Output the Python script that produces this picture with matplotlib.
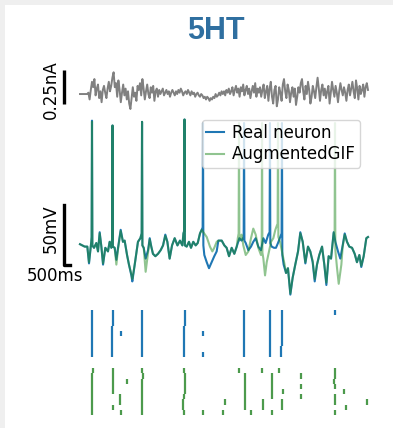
import matplotlib
matplotlib.use('Agg')
import matplotlib.pyplot as plt
from matplotlib.patches import Rectangle

# injected current (nA), sampled every 0.1 s from 0 to 24 s
current_t = [i * 0.1 for i in range(241)]
current_nA = [0, 0, 0, 0, 0, 0, 0, 0.01,
              -0.04, 0.03, 0.09, 0.05, 0.11, -0.01, 0.04, 0.07, -0.03, 0.02, -0.06, 0.03,
              0.06, 0.01, -0.03, 0.04, 0.09, 0.02, 0.06, 0.12, 0.16, 0.05,
              0.08, -0.02, 0.10, 0.03, -0.06, 0.01, 0.07, -0.01, 0.04, -0.04,
              0.02, -0.07, -0.11, -0.03, 0.05, -0.02, 0.01, -0.05, 0.06, 0.03,
              0.08, -0.01, 0.11, 0.04, -0.04, 0.02, 0.07, 0.00, -0.03, 0.05,
              0.01, 0.06, -0.05, 0.02, 0.04, -0.02, 0.03, 0.00, 0.02, 0.04,
              -0.01, 0.01, 0.03, 0.00, 0.02, -0.02, 0.01, 0.03, 0.01, -0.01,
              0.02, 0.00, 0.03, 0.01, 0.04, 0.02, -0.01, 0.01, 0.02, 0.00,
              0.03, 0.01, -0.01, 0.02, 0.00, 0.01, -0.02, 0.00, 0.01, -0.01,
              -0.02, 0.00, -0.01, -0.03, -0.02, -0.04, -0.02, -0.03, -0.05, -0.03,
              -0.04, -0.02, -0.03, 0.00, -0.02, -0.01, 0.01, -0.01, 0.02, 0.00,
              0.02, -0.01, 0.03, 0.01, 0.04, 0.00, 0.02, 0.05, -0.01, 0.03,
              0.06, 0.01, 0.04, -0.02, 0.05, 0.02, 0.07, -0.01, 0.03, 0.06,
              0.00, 0.04, -0.03, 0.02, 0.06, 0.01, 0.08, -0.02, 0.04, 0.01,
              0.05, -0.02, 0.03, 0.07, -0.03, 0.02, 0.06, -0.05, 0.04, 0.09,
              -0.02, -0.07, 0.03, 0.06, -0.09, -0.04, 0.05, 0.01, -0.05, 0.07,
              0.11, 0.02, -0.03, 0.07, 0.03, -0.06, 0.01, 0.05, -0.02, 0.04,
              -0.08, -0.02, 0.05, 0.01, 0.08, 0.11, 0.02, -0.04, 0.06, 0.00,
              0.09, 0.03, -0.07, -0.02, 0.06, 0.02, -0.03, 0.05, 0.12, 0.04,
              -0.05, 0.03, 0.07, -0.01, 0.04, -0.03, 0.02, 0.06, -0.07, 0.01,
              0.09, 0.03, -0.02, 0.06, 0.01, -0.06, 0.02, 0.08, 0.03, -0.01,
              0.05, 0.01, -0.05, 0.03, 0.07, -0.01, 0.04, 0.09, 0.02, -0.03,
              0.10, 0.04, -0.04, 0.06, 0.00, 0.03, 0.07, -0.02, 0.05, 0.08,
              0.03]

# membrane potential of the real neuron (s, mV)
real_t = [0, 0.39, 0.61, 0.75, 0.94, 0.97, 1.0, 1.03, 1.17, 1.36, 1.5, 1.64, 1.78,
          1.92, 2.11, 2.33, 2.47, 2.61, 2.68, 2.71, 2.74, 2.89, 3.03, 3.17, 3.39,
          3.58, 3.72, 3.92, 4.08, 4.28, 4.36, 4.56, 4.69, 4.83, 5.03, 5.14, 5.17,
          5.2, 5.31, 5.47, 5.67, 5.81, 5.94, 6.08, 6.28, 6.5, 6.72, 6.92, 7.11,
          7.28, 7.47, 7.67, 7.89, 8.12, 8.33, 8.53, 8.62, 8.68, 8.71, 8.74, 8.89,
          9.08, 9.25, 9.44, 9.64, 9.81, 10.0, 10.14, 10.22, 10.25, 10.28, 10.36,
          10.56, 10.75, 10.97, 11.19, 11.39, 11.53, 11.81, 12.03, 12.22, 12.42,
          12.64, 12.86, 13.06, 13.28, 13.47, 13.64, 13.67, 13.7, 13.81, 14.03,
          14.25, 14.44, 14.64, 14.86, 15.08, 15.28, 15.47, 15.69, 15.8, 15.83,
          15.86, 15.97, 16.17, 16.33, 16.5, 16.69, 16.8, 16.83, 16.86, 16.97,
          17.17, 17.33, 17.53, 17.72, 17.94, 18.17, 18.36, 18.56, 18.78, 19.0,
          19.19, 19.39, 19.56, 19.75, 19.94, 20.17, 20.36, 20.53, 20.72, 20.92,
          21.14, 21.28, 21.5, 21.69, 21.89, 22.06, 22.25, 22.44, 22.67, 22.89,
          23.08, 23.28, 23.44, 23.64, 23.86, 24.0]
real_mV = [-61, -63, -63, -77, -59, -55, 42, -62, -64, -60, -67, -51, -63,
           -78, -64, -67, -59, -64, -56, 38, -63, -64, -74, -64, -49,
           -59, -58, -70, -78, -87, -92, -78, -69, -59, -56, -52, 41,
           -62, -64, -73, -66, -56, -63, -69, -71, -69, -66, -62, -53,
           -59, -73, -62, -56, -62, -58, -62, -52, -50, 43, -62, -63,
           -59, -64, -59, -62, -60, -52, -49, -47, 40, -62, -70,
           -76, -81, -76, -71, -67, -58, -58, -62, -64, -71,
           -64, -69, -63, -56, -58, -55, 40, -58, -60, -66,
           -63, -59, -56, -63, -66, -56, -60, -53, -51, 40,
           -60, -63, -64, -64, -60, -55, -52, 40, -70, -78,
           -85, -81, -103, -89, -78, -67, -51, -59, -77, -63,
           -67, -76, -92, -78, -70, -63, -78, -95, -71, -73,
           -51, -59, -67, -73, -62, -52, -59, -63, -64, -69,
           -76, -70, -80, -71, -56, -55]

# membrane potential of the AugmentedGIF model (s, mV)
model_t = [0, 0.39, 0.61, 0.75, 0.94, 0.97, 1.0, 1.03, 1.17, 1.36, 1.5, 1.64, 1.78,
           1.92, 2.11, 2.33, 2.47, 2.61, 2.68, 2.71, 2.74, 2.89, 3.03, 3.17, 3.39,
           3.58, 3.72, 3.92, 4.08, 4.28, 4.36, 4.56, 4.69, 4.83, 5.03, 5.14, 5.17,
           5.2, 5.31, 5.47, 5.67, 5.81, 5.94, 6.08, 6.28, 6.5, 6.72, 6.92, 7.11,
           7.28, 7.47, 7.67, 7.89, 8.12, 8.33, 8.53, 8.62, 8.68, 8.71, 8.74, 8.89,
           9.08, 9.25, 9.44, 9.64, 9.81, 10.0, 10.14, 10.28, 10.56, 10.83, 11.03,
           11.19, 11.39, 11.53, 11.81, 12.03, 12.22, 12.42, 12.64, 12.86, 13.06,
           13.15, 13.22, 13.25, 13.28, 13.36, 13.47, 13.61, 13.81, 14.03, 14.25,
           14.44, 14.64, 14.86, 15.08, 15.14, 15.17, 15.2, 15.28, 15.42, 15.56,
           15.75, 15.92, 16.11, 16.28, 16.42, 16.47, 16.5, 16.53, 16.67, 16.89,
           17.05, 17.17, 17.33, 17.53, 17.72, 17.94, 18.17, 18.36, 18.56, 18.78,
           19.0, 19.19, 19.39, 19.56, 19.75, 19.94, 20.17, 20.36, 20.53, 20.72,
           20.92, 21.14, 21.22, 21.25, 21.28, 21.42, 21.56, 21.78, 21.89, 22.06,
           22.25, 22.44, 22.67, 22.89, 23.08, 23.28, 23.44, 23.64, 23.86, 24.0]
model_mV = [-61, -63, -63, -76, -59, -55, 41, -62, -64, -60, -67, -52, -63,
            -77, -64, -67, -59, -64, -56, 38, -63, -64, -78, -65, -50,
            -59, -58, -70, -78, -86, -90, -78, -69, -59, -56, -52, 41,
            -62, -64, -84, -68, -57, -63, -69, -71, -69, -66, -62, -54,
            -59, -73, -62, -56, -62, -58, -62, -52, -50, 43, -62, -63,
            -59, -64, -59, -62, -60, -52, -49, -51, -55, -63, -67,
            -64, -59, -58, -58, -62, -64, -71, -64, -69, -63,
            -56, -52, 40, -58, -56, -53, -62, -70, -67, -56,
            -48, -53, -64, -70, -65, 40, -68, -73, -87, -76,
            -67, -59, -56, -49, -45, -44, 40, -55, -59, -70,
            -78, -85, -81, -102, -89, -78, -67, -52, -59, -76,
            -63, -67, -75, -90, -78, -70, -63, -78, -93, -71,
            -73, -52, -50, 40, -66, -81, -94, -78, -63, -53,
            -59, -63, -64, -69, -76, -70, -79, -71, -56, -55]

# spike times (s) per repetition, top row first
real_trains = [
    [1.0, 2.71, 5.17, 8.71, 13.67, 15.83, 16.83, 21.25],
    [1.0, 2.71, 5.17, 8.71, 13.67, 15.83, 16.83],
    [0.98, 2.71, 5.17, 8.71, 13.67, 15.83, 16.83],
    [0.96, 2.69, 5.17, 8.69, 13.65, 15.83, 16.83],
    [1.0, 2.69, 3.42, 5.17, 8.69, 10.25, 13.63, 15.81, 16.83],
    [1.0, 2.69, 5.17, 8.69, 13.63, 15.81, 16.81],
    [1.0, 2.69, 5.17, 8.69, 13.67, 15.81, 16.81],
    [1.0, 2.69, 5.17, 8.69, 13.67, 15.81, 16.72],
    [1.0, 2.69, 5.17, 8.69, 10.25, 13.69, 15.81, 16.75],
]
model_trains = [
    [1.06, 2.75, 5.17, 8.67, 13.25, 15.17, 16.58, 21.25],
    [1.04, 2.71, 5.21, 8.75, 13.75, 16.0, 18.42, 21.25],
    [1.04, 2.75, 3.89, 5.2, 8.79, 13.75, 16.0, 21.2],
    [1.0, 2.71, 5.17, 8.75, 13.75, 16.0, 18.42, 21.25],
    [1.0, 2.75, 5.2, 8.71, 13.75, 16.0, 16.92, 22.0],
    [1.04, 3.33, 5.2, 8.67, 13.75, 16.0, 18.42, 21.25],
    [1.0, 3.33, 5.17, 8.62, 12.08, 13.75, 15.25, 16.83, 21.25, 23.92],
    [1.04, 2.71, 5.17, 8.62, 13.79, 15.25, 16.83, 22.17],
    [1.0, 3.42, 5.17, 8.67, 10.25, 11.92, 14.25, 16.0, 21.25],
]

blue = '#1f77b4'
green = '#228b22'
W, H = 393, 428

fig = plt.figure(figsize=(W / 100, H / 100), dpi=100, facecolor='#efefef')
fig.patches.append(Rectangle((5 / W, 0), 388 / W, 423 / H, transform=fig.transFigure,
                             facecolor='white', edgecolor='none', zorder=-1))

def px_axes(top, bottom):
    return fig.add_axes([62 / W, 1 - bottom / H, 308.4 / W, (bottom - top) / H])

xlim = (-1.5, 24.2)

# current
ax_i = px_axes(60, 115)
ax_i.plot(current_t, current_nA, color='gray', lw=1.4)
ax_i.plot([-1.33, -1.33], [-0.075, 0.175], color='black', lw=2.4, solid_capstyle='butt')
ax_i.text(-2.45, 0.035, '0.25nA', rotation=90, ha='center', va='center', fontsize=12)
ax_i.set_xlim(xlim)
ax_i.set_ylim(-0.154, 0.25)
ax_i.axis('off')

# voltage
ax_v = px_axes(115, 300)
ax_v.plot(real_t, real_mV, color=blue, lw=1.5, label='Real neuron')
ax_v.plot(model_t, model_mV, color=green, lw=1.5, alpha=0.5, label='AugmentedGIF')
ax_v.plot([-1.33, -1.33, -0.83], [-28.3, -78.3, -78.3], color='black', lw=2.4)
ax_v.text(-2.45, -48.3, '50mV', rotation=90, ha='center', va='center', fontsize=12)
ax_v.text(-2.1, -87.5, '500ms', ha='center', va='center', fontsize=12)
ax_v.legend(loc='upper right', bbox_to_anchor=(0.966, 0.973), borderaxespad=0,
            fontsize=12, handlelength=1.1, handletextpad=0.45, borderpad=0.25,
            labelspacing=0.2)
ax_v.set_xlim(xlim)
ax_v.set_ylim(-107.5, 46.7)
ax_v.axis('off')

# rasters
ax_r = px_axes(305, 420)
ax_r.eventplot(real_trains, lineoffsets=list(range(9)), linelengths=1.0,
               colors=blue, linewidths=1.6)
ax_r.eventplot(model_trains, lineoffsets=[11.2 + k for k in range(9)], linelengths=1.0,
               colors='#4c9a4c', linewidths=1.6)
ax_r.set_xlim(xlim)
ax_r.set_ylim(20.65, -1.46)
ax_r.axis('off')

fig.text(216 / W, 1 - 31 / H, '5HT', ha='center', va='center', fontsize=22,
         fontweight='bold', family='Liberation Sans', color='#2f6fa0')

fig.savefig('out.png', dpi=100, facecolor=fig.get_facecolor())
